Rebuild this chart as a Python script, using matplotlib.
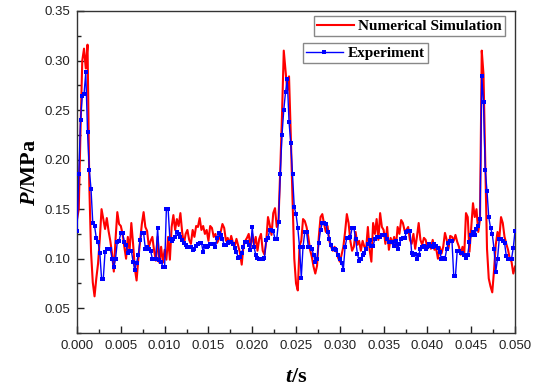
import numpy as np
import matplotlib
matplotlib.use("Agg")
import matplotlib.pyplot as plt

# sample times (s), 0.2 ms step for both records
t_sim = np.arange(251) * 0.0002
t_exp = np.arange(251) * 0.0002

# numerical simulation pressure (MPa)
p_sim = [
    0.140, 0.150, 0.230, 0.300, 0.312,
    0.292, 0.316, 0.175, 0.107, 0.076,
    0.062, 0.080, 0.095, 0.120, 0.150,
    0.140, 0.130, 0.141, 0.128, 0.118,
    0.105, 0.087, 0.120, 0.147, 0.135,
    0.133, 0.125, 0.112, 0.100, 0.122,
    0.108, 0.136, 0.115, 0.090, 0.078,
    0.100, 0.118, 0.135, 0.147, 0.132,
    0.128, 0.112, 0.118, 0.122, 0.108,
    0.098, 0.122, 0.096, 0.112, 0.096,
    0.109, 0.099, 0.122, 0.099, 0.132,
    0.144, 0.129, 0.140, 0.133, 0.146,
    0.127, 0.115, 0.125, 0.129, 0.119,
    0.115, 0.129, 0.122, 0.133, 0.132,
    0.141, 0.129, 0.133, 0.125, 0.129,
    0.118, 0.133, 0.131, 0.122, 0.125,
    0.116, 0.120, 0.127, 0.135, 0.131,
    0.118, 0.121, 0.115, 0.123, 0.116,
    0.113, 0.120, 0.113, 0.106, 0.094,
    0.113, 0.118, 0.121, 0.125, 0.111,
    0.125, 0.114, 0.122, 0.108, 0.120,
    0.125, 0.108, 0.104, 0.118, 0.142,
    0.134, 0.124, 0.146, 0.151, 0.132,
    0.139, 0.190, 0.245, 0.310, 0.290,
    0.270, 0.284, 0.225, 0.160, 0.100,
    0.075, 0.068, 0.113, 0.118, 0.140,
    0.138, 0.132, 0.122, 0.109, 0.102,
    0.092, 0.085, 0.093, 0.122, 0.142,
    0.145, 0.135, 0.127, 0.133, 0.118,
    0.112, 0.108, 0.112, 0.108, 0.101,
    0.097, 0.104, 0.112, 0.127, 0.145,
    0.136, 0.118, 0.108, 0.112, 0.127,
    0.114, 0.118, 0.108, 0.118, 0.112,
    0.110, 0.132, 0.109, 0.097, 0.136,
    0.125, 0.140, 0.119, 0.146, 0.132,
    0.129, 0.115, 0.132, 0.109, 0.121,
    0.115, 0.122, 0.112, 0.132, 0.125,
    0.139, 0.136, 0.128, 0.129, 0.132,
    0.119, 0.115, 0.125, 0.110, 0.122,
    0.136, 0.119, 0.114, 0.121, 0.119,
    0.110, 0.115, 0.110, 0.119, 0.109,
    0.110, 0.100, 0.112, 0.105, 0.112,
    0.126, 0.119, 0.110, 0.123, 0.122,
    0.118, 0.124, 0.117, 0.112, 0.104,
    0.112, 0.104, 0.146, 0.142, 0.107,
    0.132, 0.156, 0.142, 0.150, 0.127,
    0.140, 0.310, 0.286, 0.200, 0.110,
    0.080, 0.072, 0.066, 0.088, 0.114,
    0.127, 0.120, 0.142, 0.136, 0.122,
    0.115, 0.109, 0.100, 0.097, 0.085,
    0.092,
]

# measured pressure (MPa)
p_exp = [
    0.128, 0.185, 0.240, 0.264, 0.266,
    0.288, 0.228, 0.190, 0.170, 0.136,
    0.133, 0.121, 0.117, 0.106, 0.080,
    0.080, 0.107, 0.110, 0.110, 0.110,
    0.100, 0.092, 0.100, 0.117, 0.118,
    0.126, 0.126, 0.117, 0.114, 0.106,
    0.108, 0.108, 0.097, 0.089, 0.096,
    0.104, 0.119, 0.126, 0.126, 0.110,
    0.112, 0.110, 0.108, 0.100, 0.100,
    0.100, 0.131, 0.099, 0.097, 0.092,
    0.092, 0.150, 0.150, 0.120, 0.118,
    0.120, 0.122, 0.127, 0.125, 0.122,
    0.119, 0.116, 0.114, 0.112, 0.112,
    0.112, 0.109, 0.110, 0.113, 0.115,
    0.116, 0.116, 0.107, 0.113, 0.112,
    0.113, 0.115, 0.115, 0.115, 0.112,
    0.121, 0.126, 0.124, 0.120, 0.114,
    0.114, 0.116, 0.117, 0.117, 0.115,
    0.111, 0.107, 0.101, 0.102, 0.106,
    0.112, 0.117, 0.117, 0.114, 0.109,
    0.132, 0.112, 0.104, 0.101, 0.100,
    0.100, 0.100, 0.101, 0.119, 0.121,
    0.129, 0.129, 0.128, 0.120, 0.120,
    0.137, 0.185, 0.225, 0.250, 0.268,
    0.281, 0.238, 0.217, 0.185, 0.152,
    0.145, 0.131, 0.112, 0.081, 0.112,
    0.127, 0.127, 0.112, 0.112, 0.110,
    0.104, 0.097, 0.100, 0.116, 0.129,
    0.136, 0.136, 0.135, 0.127, 0.120,
    0.114, 0.110, 0.110, 0.109, 0.104,
    0.100, 0.096, 0.089, 0.112, 0.121,
    0.121, 0.122, 0.131, 0.131, 0.120,
    0.105, 0.098, 0.100, 0.104, 0.106,
    0.110, 0.115, 0.119, 0.113, 0.113,
    0.120, 0.122, 0.122, 0.122, 0.124,
    0.124, 0.124, 0.120, 0.117, 0.117,
    0.117, 0.113, 0.118, 0.110, 0.115,
    0.120, 0.121, 0.121, 0.127, 0.128,
    0.128, 0.106, 0.104, 0.105, 0.100,
    0.104, 0.110, 0.112, 0.113, 0.110,
    0.112, 0.115, 0.113, 0.112, 0.115,
    0.113, 0.111, 0.107, 0.100, 0.101,
    0.100, 0.110, 0.116, 0.118, 0.118,
    0.083, 0.083, 0.108, 0.108, 0.106,
    0.106, 0.104, 0.101, 0.104, 0.117,
    0.124, 0.127, 0.124, 0.130, 0.133,
    0.140, 0.284, 0.258, 0.190, 0.168,
    0.142, 0.131, 0.125, 0.110, 0.087,
    0.100, 0.120, 0.120, 0.118, 0.116,
    0.103, 0.100, 0.100, 0.100, 0.111,
    0.128,
]

x_ticks = np.arange(0, 0.0501, 0.005)
y_ticks = np.arange(0.05, 0.351, 0.05)

plt.rcParams['mathtext.fontset'] = 'custom'
plt.rcParams['mathtext.bfit'] = 'Liberation Serif:italic:bold'
plt.rcParams['mathtext.rm'] = 'Liberation Serif'

fig = plt.figure(figsize=(5.33, 3.92), dpi=100)
ax = fig.add_axes([0.1445, 0.1505, 0.8218, 0.8215])

line_sim, = ax.plot(t_sim, p_sim, color='#ff0000', lw=1.5, zorder=2)
line_exp, = ax.plot(t_exp, p_exp, color='#0000ff', lw=1.0, marker='s',
                    markersize=3.5, markeredgewidth=0, zorder=3)

ax.set_xlim(0, 0.05)
ax.set_ylim(0.025, 0.35)
ax.set_xticks(x_ticks)
ax.set_yticks(y_ticks)
ax.set_xticks(np.arange(0.0025, 0.05, 0.005), minor=True)
ax.set_yticks(np.arange(0.025, 0.35, 0.05), minor=True)
ax.xaxis.set_major_formatter(plt.FormatStrFormatter('%.3f'))
ax.yaxis.set_major_formatter(plt.FormatStrFormatter('%.2f'))

ax.tick_params(which='both', direction='in', top=False, right=False,
               labelsize=9.5, pad=5, colors='#222222')
ax.tick_params(which='major', length=5, width=1)
ax.tick_params(which='minor', length=3, width=1)
for lab in ax.get_xticklabels() + ax.get_yticklabels():
    lab.set_fontfamily('Liberation Sans')
for sp in ax.spines.values():
    sp.set_linewidth(1.0)
    sp.set_color('#333333')

ax.set_xlabel(r'$\mathbfit{t}$/s', fontsize=16, fontfamily='Liberation Serif',
              fontweight='bold', labelpad=11)
ax.set_ylabel(r'$\mathbfit{P}$/MPa', fontsize=16, fontfamily='Liberation Serif',
              fontweight='bold', labelpad=3)

legend_font = {'family': 'Liberation Serif', 'weight': 'bold', 'size': 11}
leg1 = ax.legend([line_sim], ['Numerical Simulation'], loc='upper right',
                 bbox_to_anchor=(0.977, 0.984), prop=legend_font,
                 fancybox=False, edgecolor='#888888', framealpha=1,
                 borderaxespad=0, borderpad=0.2, handlelength=2.4,
                 handletextpad=0.3)
leg1.get_frame().set_linewidth(1.0)
ax.add_artist(leg1)
leg2 = ax.legend([line_exp], ['Experiment'], loc='upper left',
                 bbox_to_anchor=(0.516, 0.90), prop=legend_font,
                 fancybox=False, edgecolor='#888888', framealpha=1,
                 borderaxespad=0, borderpad=0.2, handlelength=2.4,
                 handletextpad=0.3, numpoints=1)
leg2.get_frame().set_linewidth(1.0)

fig.savefig('out.png', dpi=100)
